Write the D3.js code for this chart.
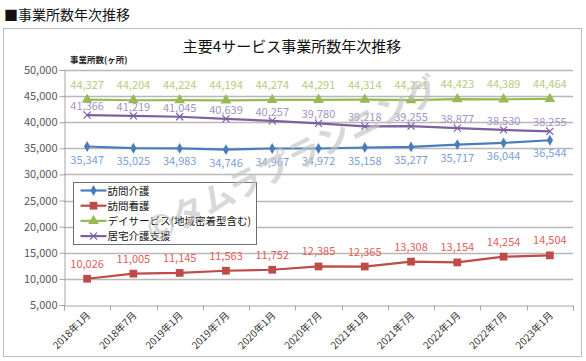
<!DOCTYPE html>
<html>
<head>
<meta charset="utf-8">
<script src="https://cdn.jsdelivr.net/npm/d3@7"></script>
<style>
  body { margin: 0; background: #fff; }
  text { font-family: "Noto Sans CJK JP", "Noto Sans", sans-serif; }
</style>
</head>
<body>
<div id="vis"></div>
<script>
// data
var months = ["2018年1月", "2018年7月", "2019年1月", "2019年7月", "2020年1月", "2020年7月",
              "2021年1月", "2021年7月", "2022年1月", "2022年7月", "2023年1月"];
var houmonKaigo = [35347, 35025, 34983, 34746, 34967, 34972, 35158, 35277, 35717, 36044, 36544];
var houmonKango = [10026, 11005, 11145, 11563, 11752, 12385, 12365, 13308, 13154, 14254, 14504];
var dayService = [44327, 44204, 44224, 44194, 44274, 44291, 44314, 44221, 44423, 44389, 44464];
var kyotaku = [41366, 41219, 41045, 40639, 40257, 39780, 39218, 39255, 38877, 38530, 38255];
var yTicks = [5000, 10000, 15000, 20000, 25000, 30000, 35000, 40000, 45000, 50000];

var series = [
  {name: "訪問介護", values: houmonKaigo, color: "#4a7ebb", label: "#7c9fd4", symbol: d3.symbolDiamond, size: 34, dy: 17},
  {name: "訪問看護", values: houmonKango, color: "#be4b48", label: "#e0605c", symbol: d3.symbolSquare, size: 60, dy: -11},
  {name: "デイサービス(地域密着型含む)", values: dayService, color: "#98b954", label: "#b3cd7d", symbol: d3.symbolTriangle, size: 50, dy: -11},
  {name: "居宅介護支援", values: kyotaku, color: "#7d60a0", label: "#a593c5", symbol: "x", size: 7, dy: -5}
];

var svg = d3.select("#vis").append("svg").attr("width", 586).attr("height", 361);

svg.append("text").attr("x", 4).attr("y", 20).attr("font-size", 14).attr("fill", "#111").text("■事業所数年次推移");

svg.append("rect").attr("x", 3.5).attr("y", 28.5).attr("width", 578).attr("height", 328)
  .attr("fill", "#fff").attr("stroke", "#bdbdbd");

svg.append("text").attr("x", 292).attr("y", 52).attr("text-anchor", "middle")
  .attr("font-size", 15).attr("fill", "#111").text("主要4サービス事業所数年次推移");

svg.append("text").attr("x", 70).attr("y", 63).attr("font-size", 8.5).attr("font-weight", "bold")
  .attr("fill", "#222").text("事業所数(ヶ所)");

var x = d3.scaleBand().domain(months).range([64, 573]);
var y = d3.scaleLinear().domain([5000, 50000]).range([305, 70]);

// gridlines
svg.append("g").selectAll("line").data(yTicks.slice(1)).join("line")
  .attr("x1", 64).attr("x2", 573)
  .attr("y1", function(d){ return Math.round(y(d)) + 0.5; })
  .attr("y2", function(d){ return Math.round(y(d)) + 0.5; })
  .attr("stroke", "#b8b8b8").attr("stroke-width", 1.3);

var yAxis = svg.append("g").attr("transform", "translate(64.5,0)")
  .call(d3.axisLeft(y).tickValues(yTicks).tickSize(5).tickFormat(d3.format(",")));
yAxis.select(".domain").attr("stroke", "#a6a6a6");
yAxis.selectAll(".tick line").attr("stroke", "#a6a6a6");
yAxis.selectAll("text").attr("font-size", 11).attr("fill", "#595959").attr("x", -7);

var xAxis = svg.append("g").attr("transform", "translate(0,305.5)")
  .call(d3.axisBottom(x).tickSize(5).tickFormat(""));
xAxis.select(".domain").attr("stroke", "#a6a6a6");
xAxis.selectAll(".tick").remove();
xAxis.selectAll("line.tk").data(months.concat(["end"])).join("line").attr("class", "tk")
  .attr("x1", function(d, i){ return Math.round(64 + i * x.step()) + 0.5; })
  .attr("x2", function(d, i){ return Math.round(64 + i * x.step()) + 0.5; })
  .attr("y1", 0).attr("y2", 5).attr("stroke", "#a6a6a6");

svg.append("g").selectAll("text").data(months).join("text")
  .attr("text-anchor", "end").attr("font-size", 10).attr("fill", "#333")
  .attr("transform", function(d){ return "translate(" + (x(d) + x.bandwidth() / 2 + 4) + ",316) rotate(-45)"; })
  .text(function(d){ return d; });

var line = d3.line()
  .x(function(d, i){ return x(months[i]) + x.bandwidth() / 2; })
  .y(function(d){ return y(d); });

function drawMarker(g, s, cx, cy) {
  if (s.symbol === "x") {
    var r = s.size / 2;
    g.append("path").attr("d", "M" + (cx - r) + "," + (cy - r) + "L" + (cx + r) + "," + (cy + r) +
        "M" + (cx - r) + "," + (cy + r) + "L" + (cx + r) + "," + (cy - r))
      .attr("stroke", s.color).attr("stroke-width", 1.2).attr("fill", "none");
  } else {
    g.append("path").attr("d", d3.symbol().type(s.symbol).size(s.size)())
      .attr("transform", "translate(" + cx + "," + cy + ")").attr("fill", s.color);
  }
}

series.forEach(function(s){
  var g = svg.append("g");
  g.append("path").datum(s.values).attr("d", line).attr("fill", "none")
    .attr("stroke", s.color).attr("stroke-width", 2.2);
  s.values.forEach(function(v, i){
    drawMarker(g, s, x(months[i]) + x.bandwidth() / 2, y(v));
  });
  g.selectAll("text").data(s.values).join("text")
    .attr("x", function(d, i){ return x(months[i]) + x.bandwidth() / 2; })
    .attr("y", function(d){ return y(d) + s.dy; })
    .attr("text-anchor", "middle").attr("font-size", 11).attr("fill", s.label)
    .text(function(d){ return d3.format(",")(d); });
});

// legend
var lg = svg.append("g").attr("transform", "translate(73.5,182.5)");
lg.append("rect").attr("width", 183).attr("height", 62).attr("fill", "#fff").attr("stroke", "#6f6f6f");
series.forEach(function(s, i){
  var ly = 8 + i * 15.2;
  lg.append("line").attr("x1", 7).attr("x2", 33).attr("y1", ly).attr("y2", ly)
    .attr("stroke", s.color).attr("stroke-width", 2.2);
  drawMarker(lg, s, 20, ly);
  lg.append("text").attr("x", 34).attr("y", ly + 4).attr("font-size", 10.5).attr("fill", "#111").text(s.name);
});

// watermark, on top of everything
svg.append("text").attr("font-size", 33).attr("font-weight", "bold").attr("fill", "#c4c4c4")
  .attr("opacity", 0.65).attr("text-anchor", "middle")
  .attr("transform", "translate(298,170) rotate(-27)")
  .text("©タムラプランニング");
</script>
</body>
</html>
